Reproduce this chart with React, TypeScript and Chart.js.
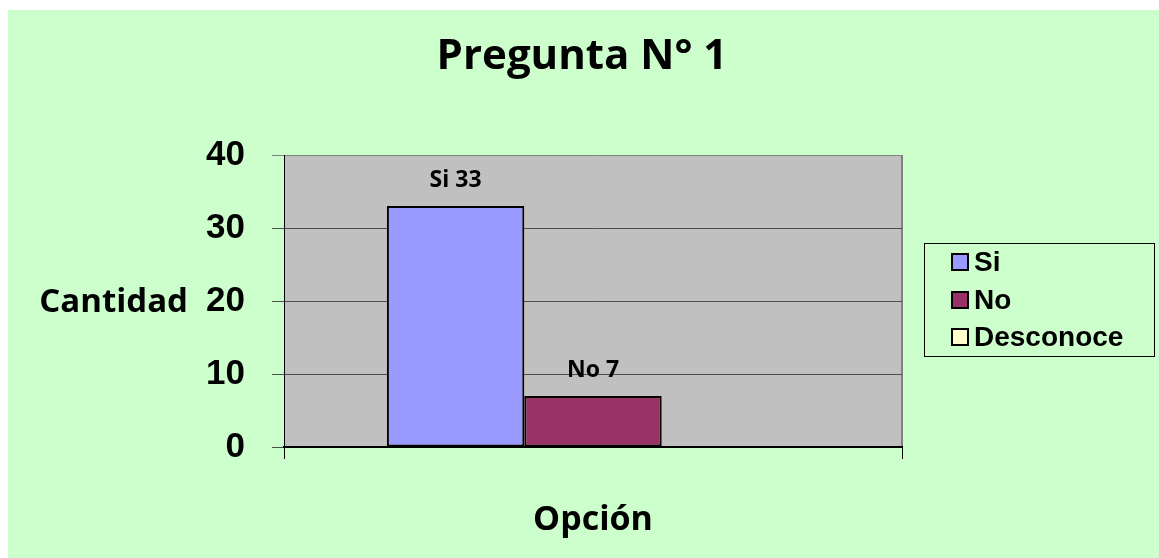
import React, { useEffect, useRef } from "react";
import { Chart, registerables } from "chart.js";

Chart.register(...registerables);

const categories = [""];
const seriesNames = ["Si", "No", "Desconoce"];
const seriesValues = [33, 7, 0];
const seriesColors = ["#9999FF", "#993366", "#FFFFCC"];
const yTicks = [0, 10, 20, 30, 40];
const titleText = "Pregunta N° 1";
const yTitle = "Cantidad";
const xTitle = "Opción";

const W = 1151;
const H = 548;

const decorPlugin = {
  id: "decor",
  beforeDraw(chart: any) {
    const { ctx, chartArea } = chart;
    ctx.save();
    ctx.fillStyle = "#CCFFCC";
    ctx.fillRect(0, 0, chart.width, chart.height);
    ctx.fillStyle = "#C0C0C0";
    ctx.fillRect(chartArea.left, chartArea.top, chartArea.right - chartArea.left, chartArea.bottom - chartArea.top);
    ctx.strokeStyle = "#808080";
    ctx.lineWidth = 2;
    ctx.beginPath();
    ctx.moveTo(chartArea.right, chartArea.top);
    ctx.lineTo(chartArea.right, chartArea.bottom);
    ctx.stroke();
    ctx.restore();
  },
  afterDatasetsDraw(chart: any) {
    const { ctx } = chart;
    ctx.save();
    ctx.fillStyle = "#000";
    ctx.textAlign = "center";
    ctx.textBaseline = "alphabetic";
    ctx.font = "bold 23px 'Open Sans'";
    chart.data.datasets.forEach((ds: any, i: number) => {
      const meta = chart.getDatasetMeta(i);
      meta.data.forEach((el: any, j: number) => {
        const v = ds.data[j];
        if (!v) return;
        ctx.fillText(`${ds.label} ${v}`, el.x, el.y - 19);
      });
    });
    ctx.restore();
  },
  afterDraw(chart: any) {
    const { ctx, chartArea } = chart;
    ctx.save();
    ctx.fillStyle = "#000";
    ctx.textBaseline = "alphabetic";
    // title
    ctx.textAlign = "center";
    ctx.font = "bold 42px 'Open Sans'";
    ctx.fillText(titleText, 574, 59);
    // y title (horizontal)
    ctx.textAlign = "right";
    ctx.font = "bold 33px 'Open Sans'";
    const cy = (chartArea.top + chartArea.bottom) / 2;
    ctx.fillText(yTitle, 180, cy + 11);
    // x title
    ctx.textAlign = "center";
    ctx.font = "bold 34px 'Open Sans'";
    ctx.fillText(xTitle, (chartArea.left + chartArea.right) / 2, 520);
    // legend
    const bx = 916, by = 233, bw = 230, bh = 113;
    ctx.strokeStyle = "#000";
    ctx.lineWidth = 1;
    ctx.strokeRect(bx + 0.5, by + 0.5, bw, bh);
    const rows = [252, 290, 327];
    ctx.font = "bold 28px 'Liberation Sans'";
    ctx.textAlign = "left";
    ctx.textBaseline = "middle";
    chart.data.datasets.forEach((ds: any, i: number) => {
      const y = rows[i];
      ctx.fillStyle = ds.backgroundColor;
      ctx.fillRect(944, y - 8, 16, 16);
      ctx.lineWidth = 2;
      ctx.strokeStyle = "#000";
      ctx.strokeRect(944, y - 8, 16, 16);
      ctx.fillStyle = "#000";
      ctx.fillText(ds.label, 966, y + 1);
    });
    ctx.restore();
  },
};

export default function App() {
  const ref = useRef<HTMLCanvasElement>(null);
  useEffect(() => {
    if (!ref.current) return;
    const chart = new Chart(ref.current, {
      type: "bar",
      data: {
        labels: categories,
        datasets: seriesNames.map((n, i) => ({
          label: n,
          data: [seriesValues[i]],
          backgroundColor: seriesColors[i],
          borderColor: "#000",
          borderWidth: 2,
          borderSkipped: false,
          categoryPercentage: 0.667,
          barPercentage: 1,
        })),
      },
      options: {
        animation: false,
        responsive: false,
        layout: { padding: { top: 145, right: 257, left: 0, bottom: 0 } },
        plugins: { legend: { display: false }, title: { display: false }, tooltip: { enabled: false } },
        scales: {
          x: {
            afterFit: (s: any) => { s.height = 111; },
            ticks: { display: false },
            grid: { display: true, drawOnChartArea: false, drawTicks: true, tickLength: 12, color: "#000", offset: true },
            border: { display: true, color: "#000", width: 2 },
          },
          y: {
            min: 0,
            max: 40,
            afterFit: (s: any) => { s.width = 276; },
            afterBuildTicks: (s: any) => { s.ticks = yTicks.map((v) => ({ value: v })); },
            ticks: { color: "#000", padding: 27, font: { family: "'Liberation Sans'", size: 35, weight: "bold" } },
            grid: {
              tickLength: 12,
              color: (c: any) => (c.tick && c.tick.value === 40 ? "#808080" : "#4d4d4d"),
              lineWidth: 1,
            },
            border: { display: true, color: "#000", width: 1 },
          },
        },
      },
      plugins: [decorPlugin],
    } as any);
    return () => chart.destroy();
  }, []);
  return (
    <div style={{ position: "fixed", left: 8, top: 10, width: W, height: H }}>
      <canvas ref={ref} width={W} height={H} style={{ display: "block", width: W, height: H }} />
    </div>
  );
}
